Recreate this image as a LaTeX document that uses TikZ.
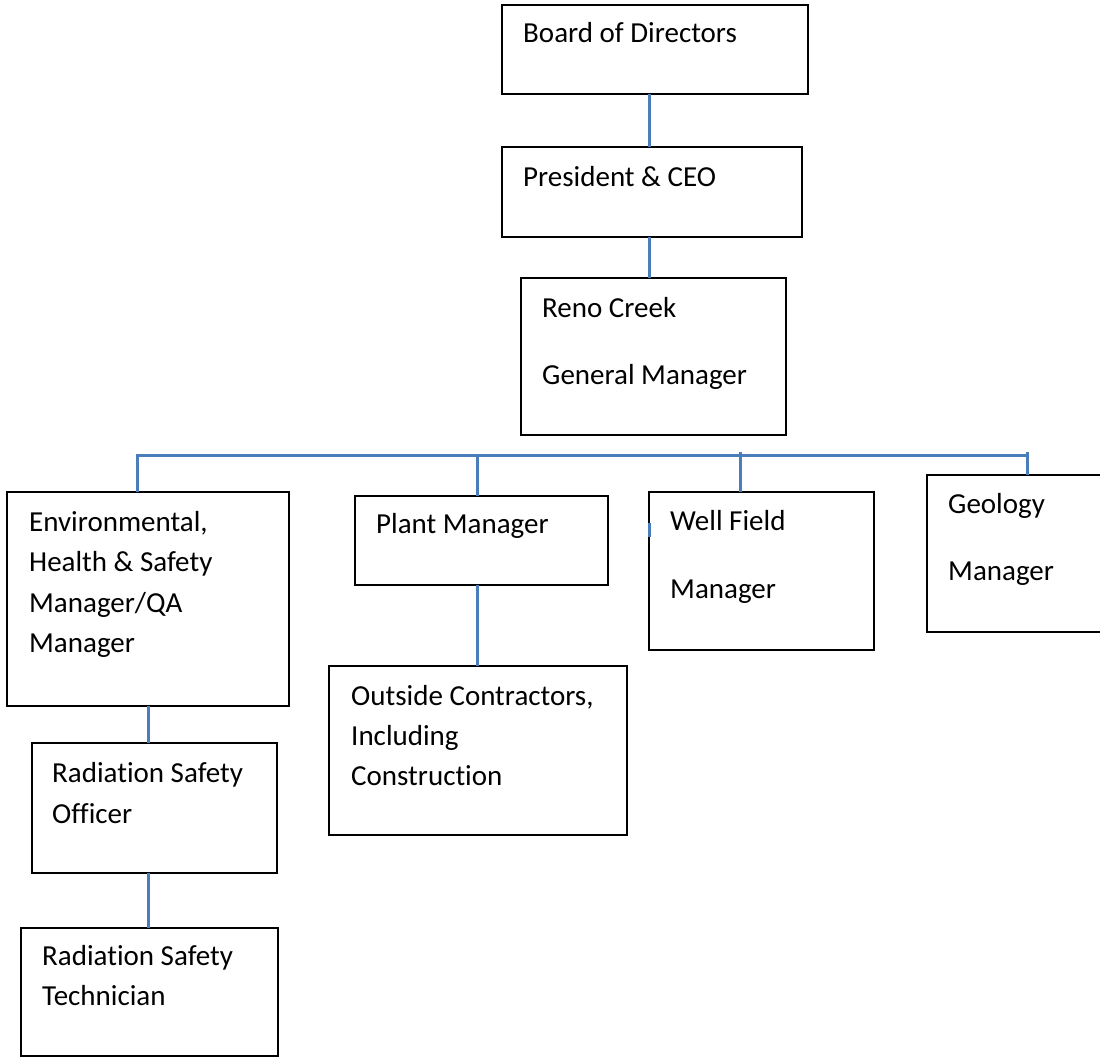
\documentclass[tikz,border=0pt]{standalone}
\usepackage{fontspec}
\setmainfont{Carlito}[Ligatures=NoCommon]
\definecolor{linkblue}{RGB}{74,126,187}
\begin{document}
\begin{tikzpicture}[x=1pt,y=-1pt,
  box/.style={draw=black,line width=2pt,fill=white,inner sep=0pt,outer sep=0pt,anchor=north west,rectangle},
  openbox/.style={inner sep=0pt,outer sep=0pt,anchor=north west,rectangle},
  txt/.style={anchor=base west,inner sep=0pt,font=\fontsize{29}{40}\selectfont,text=black},
  conn/.style={draw=linkblue,line width=3pt}]
\useasboundingbox[fill=white] (0,0) rectangle (1100,1057);
% boxes
\node[box,minimum width=306pt,minimum height=89pt] (board) at (502,5) {};
\node[box,minimum width=300pt,minimum height=90pt] (pres) at (502,147) {};
\node[box,minimum width=265pt,minimum height=157pt] (gm) at (521,278) {};
\node[box,minimum width=282pt,minimum height=214pt] (env) at (7,492) {};
\node[box,minimum width=253pt,minimum height=89pt] (plant) at (355,496) {};
\node[box,minimum width=225pt,minimum height=158pt] (wf) at (649,492) {};
\node[openbox,minimum width=173pt,minimum height=157pt] (geo) at (927,475) {};
\draw[black,line width=2pt] (geo.north east) -- (geo.north west) -- (geo.south west) -- (geo.south east);
\node[box,minimum width=298pt,minimum height=169pt] (out) at (329,666) {};
\node[box,minimum width=245pt,minimum height=130pt] (rso) at (32,743) {};
\node[box,minimum width=257pt,minimum height=128pt] (rst) at (21,928) {};
% texts
\node[txt] (t1) at (523,43) {Board of Directors};
\node[txt] (t2) at (523,186) {President \& CEO};
\node[txt] (t3) at (542,317) {Reno Creek};
\node[txt] (t4) at (542,384) {General Manager};
\node[txt] (t5) at (29,531) {Environmental,};
\node[txt] (t6) at (29,571) {Health \& Safety};
\node[txt] (t7) at (29,612) {Manager/QA};
\node[txt] (t8) at (29,652) {Manager};
\node[txt] (t9) at (376,533) {Plant Manager};
\node[txt] (t10) at (670,530) {Well Field};
\node[txt] (t11) at (670,598) {Manager};
\node[txt] (t12) at (948,513) {Geology};
\node[txt] (t13) at (948,580) {Manager};
\node[txt] (t14) at (351,705) {Outside Contractors,};
\node[txt] (t15) at (351,745) {Including};
\node[txt] (t16) at (351,785) {Construction};
\node[txt] (t17) at (52,782) {Radiation Safety};
\node[txt] (t18) at (52,823) {Officer};
\node[txt] (t19) at (42,965) {Radiation Safety};
\node[txt] (t20) at (42,1005) {Technician};
% connector columns
\coordinate (xa) at (649,0);
\coordinate (xp) at (477,0);
\coordinate (xw) at (740,0);
\coordinate (xr) at (148,0);
\coordinate (busW) at (137,455);
\coordinate (busE) at (1027,455);
\coordinate (mk1) at (649,523);
\coordinate (mk2) at (649,537);
% connectors
\draw[conn] (board.south -| xa) -- (pres.north -| xa);
\draw[conn] (pres.south -| xa) -- (gm.north -| xa);
\draw[conn] (busW) -- (busE);
\draw[conn] (env.north -| busW) -- ([yshift=1.5pt]busW);
\draw[conn] (plant.north -| xp) -- (xp |- busW);
\draw[conn] (wf.north -| xw) -- ([yshift=3pt]xw |- busW);
\draw[conn] (geo.north -| busE) -- ([yshift=3pt]busE);
\draw[conn] (plant.south -| xp) -- (out.north -| xp);
\draw[conn] (env.south -| xr) -- (rso.north -| xr);
\draw[conn] (rso.south -| xr) -- (rst.north -| xr);
\draw[conn] (mk1) -- (mk2);
\end{tikzpicture}
\end{document}
